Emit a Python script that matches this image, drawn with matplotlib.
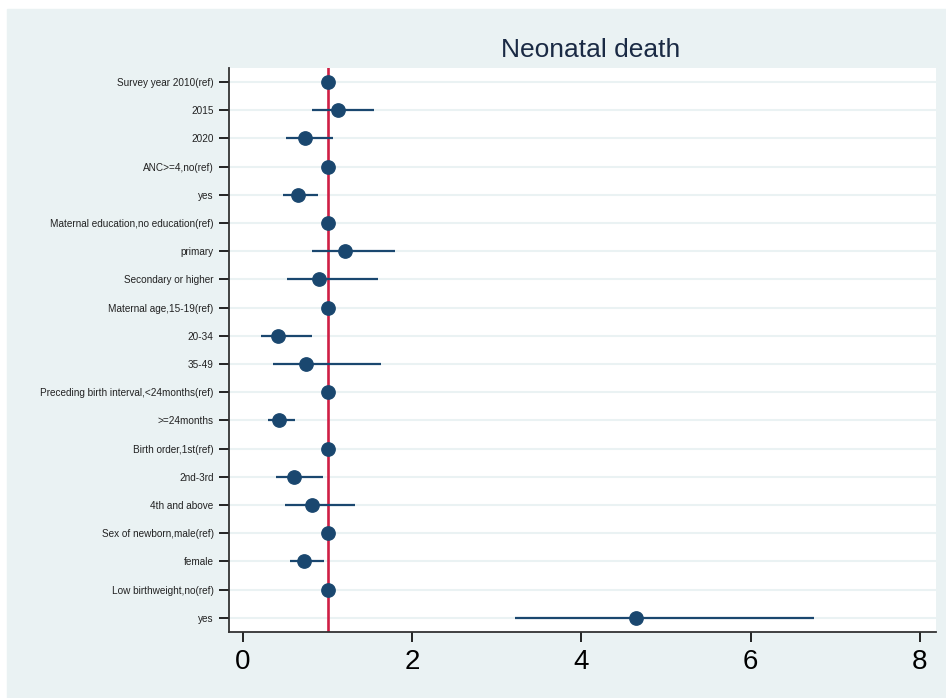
import numpy as np
import matplotlib
matplotlib.use("Agg")
import matplotlib.pyplot as plt
from matplotlib.patches import Rectangle

# Odds ratios with 95% CI (ref categories sit at 1)
labels = ["Survey year 2010(ref)", "2015", "2020",
          "ANC>=4,no(ref)", "yes",
          "Maternal education,no education(ref)", "primary", "Secondary or higher",
          "Maternal age,15-19(ref)", "20-34", "35-49",
          "Preceding birth interval,<24months(ref)", ">=24months",
          "Birth order,1st(ref)", "2nd-3rd", "4th and above",
          "Sex of newborn,male(ref)", "female",
          "Low birthweight,no(ref)", "yes"]
odds = [1.0, 1.12, 0.73, 1.0, 0.65, 1.0, 1.20, 0.90, 1.0, 0.41, 0.74,
        1.0, 0.42, 1.0, 0.60, 0.81, 1.0, 0.72, 1.0, 4.65]
ci_low = [1.0, 0.81, 0.51, 1.0, 0.47, 1.0, 0.81, 0.52, 1.0, 0.21, 0.35,
          1.0, 0.29, 1.0, 0.39, 0.50, 1.0, 0.55, 1.0, 3.21]
ci_high = [1.0, 1.55, 1.06, 1.0, 0.89, 1.0, 1.80, 1.60, 1.0, 0.81, 1.63,
           1.0, 0.61, 1.0, 0.95, 1.32, 1.0, 0.96, 1.0, 6.75]
xticks = [0, 2, 4, 6, 8]

W, H = 946, 698
bg = "#eaf2f3"
navy = "#1a476f"

fig = plt.figure(figsize=(W / 100, H / 100), dpi=100, facecolor="white")
# stata-like graph region, slightly inset from top/left
fig.patches.append(Rectangle((7 / W, 0), 1 - 7 / W, 1 - 9 / H,
                             transform=fig.transFigure, color=bg, zorder=-5))

ax = fig.add_axes([229 / W, 66 / H, (936 - 229) / W, (632 - 68) / H])
ax.set_zorder(2)
ax.set_facecolor("white")

y = np.arange(len(labels))
for yi in y:
    ax.axhline(yi, color=bg, lw=1.5, zorder=1)

ax.hlines(y, ci_low, ci_high, color=navy, lw=1.6, zorder=3)
ax.axvline(1, color="#cf1f45", lw=1.9, zorder=2)
ax.plot(odds, y, "o", color=navy, ms=9.6, zorder=4)

ax.set_ylim(len(labels) - 0.5, -0.5)
ax.set_xlim(-0.166, 8.19)
ax.set_yticks(y)
ax.set_yticklabels(labels, fontsize=7.2, family="Liberation Sans", color="#222222")
ax.set_xticks(xticks)
ax.set_xticklabels([str(t) for t in xticks], fontsize=20, family="Liberation Sans")
ax.tick_params(axis="y", length=7, width=1.2, pad=4)
ax.tick_params(axis="x", length=7, width=1.2, pad=5)

for s in ["top", "right"]:
    ax.spines[s].set_visible(False)
for s in ["left", "bottom"]:
    ax.spines[s].set_linewidth(1.3)
    ax.spines[s].set_color("#333333")

fig.text(591 / W, 1 - 50 / H, "Neonatal death", ha="center", va="center",
         fontsize=19, family="Liberation Sans", color="#1a2a44")

fig.savefig("out.png", dpi=100, facecolor=fig.get_facecolor())
